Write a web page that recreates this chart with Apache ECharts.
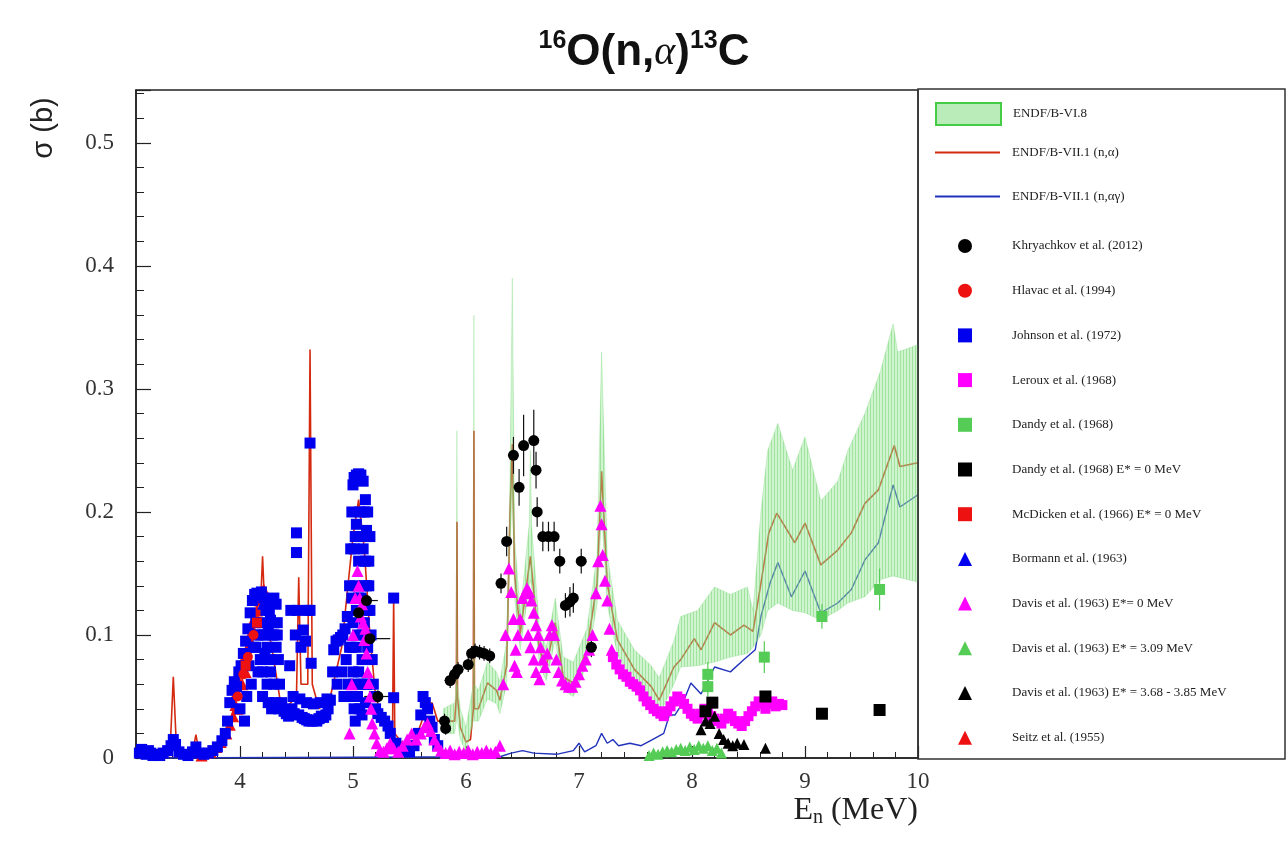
<!DOCTYPE html>
<html>
<head>
<meta charset="utf-8">
<script src="https://cdn.jsdelivr.net/npm/echarts@6/dist/echarts.min.js"></script>
<style>html,body{margin:0;padding:0;background:#fff}#c{width:1288px;height:845px}</style>
</head>
<body>
<div id="c"></div>
<script>
// ---------------- DATA ----------------
const xTicks = [4, 5, 6, 7, 8, 9, 10];
const yTicks = [0, 0.1, 0.2, 0.3, 0.4, 0.5];

// ENDF/B-VII.1 (n,alpha)  [E, sigma]
const endf71Alpha = [
 [3.10,0.0],[3.38,0.002],[3.41,0.066],[3.44,0.004],[3.58,0.004],[3.61,0.019],[3.64,0.004],[3.70,0.004],
 [3.80,0.01],[3.90,0.025],[4.00,0.06],[4.10,0.10],[4.18,0.12],[4.20,0.164],[4.22,0.12],[4.26,0.10],
 [4.30,0.08],[4.35,0.05],[4.40,0.04],[4.50,0.05],[4.52,0.147],[4.54,0.06],[4.60,0.06],[4.62,0.332],
 [4.64,0.06],[4.70,0.04],[4.80,0.05],[4.90,0.09],[5.00,0.18],[5.05,0.21],[5.10,0.17],[5.15,0.10],
 [5.20,0.05],[5.30,0.02],[5.35,0.02],[5.36,0.13],[5.37,0.02],[5.45,0.01],[5.55,0.015],[5.65,0.04],
 [5.70,0.045],[5.75,0.03],[5.85,0.03],[5.90,0.03],[5.915,0.05],[5.92,0.192],[5.925,0.05],[5.95,0.025],
 [6.00,0.013],[6.04,0.015],[6.065,0.04],[6.07,0.266],[6.075,0.04],[6.11,0.04],[6.19,0.061],[6.27,0.055],
 [6.30,0.047],[6.36,0.075],[6.39,0.20],[6.41,0.255],[6.43,0.15],[6.48,0.101],[6.57,0.164],[6.65,0.088],
 [6.71,0.074],[6.79,0.11],[6.86,0.066],[6.95,0.061],[7.07,0.088],[7.16,0.142],[7.20,0.233],[7.25,0.142],
 [7.34,0.096],[7.49,0.072],[7.64,0.058],[7.71,0.047],[7.84,0.074],[7.90,0.08],[8.02,0.097],[8.08,0.088],
 [8.20,0.11],[8.34,0.10],[8.46,0.108],[8.54,0.103],[8.61,0.142],[8.68,0.183],[8.75,0.199],[8.91,0.175],
 [9.00,0.191],[9.14,0.157],[9.29,0.169],[9.41,0.183],[9.53,0.207],[9.65,0.218],[9.79,0.254],[9.84,0.237],
 [10.0,0.24]
];

// ENDF/B-VII.1 (n,alpha gamma)
const endf71AlphaGamma = [
 [3.10,0.0],[6.30,0.001],[6.40,0.004],[6.50,0.006],[6.60,0.004],[6.80,0.003],[6.95,0.006],[7.00,0.012],
 [7.05,0.005],[7.15,0.01],[7.20,0.02],[7.25,0.012],[7.30,0.015],[7.35,0.01],[7.45,0.012],[7.55,0.01],
 [7.65,0.015],[7.75,0.02],[7.80,0.035],[7.85,0.035],[7.92,0.045],[7.99,0.061],[8.08,0.052],[8.20,0.074],
 [8.34,0.07],[8.46,0.08],[8.56,0.088],[8.61,0.115],[8.69,0.142],[8.76,0.159],[8.88,0.131],[9.00,0.152],
 [9.14,0.118],[9.29,0.126],[9.41,0.137],[9.53,0.161],[9.65,0.175],[9.78,0.222],[9.84,0.204],[10.0,0.214]
];

// ENDF/B-VI.8 uncertainty band
const bandE  = [5.80,5.90,5.915,5.92,5.925,5.95,6.00,6.065,6.07,6.075,6.11,6.19,6.27,6.30,6.36,6.39,6.41,6.43,6.48,6.56,6.57,6.58,6.65,6.71,6.79,6.86,6.95,7.07,7.16,7.20,7.25,7.34,7.49,7.64,7.71,7.84,7.90,8.05,8.20,8.34,8.49,8.54,8.61,8.67,8.76,8.89,9.00,9.14,9.29,9.38,9.53,9.67,9.78,9.82,10.0];
const bandLo = [0.020,0.020,0.030,0.060,0.030,0.015,0.005,0.030,0.080,0.030,0.030,0.048,0.044,0.036,0.060,0.170,0.220,0.130,0.088,0.140,0.145,0.140,0.076,0.063,0.096,0.055,0.050,0.076,0.125,0.200,0.125,0.084,0.060,0.046,0.035,0.060,0.074,0.075,0.078,0.082,0.085,0.090,0.100,0.120,0.126,0.120,0.118,0.112,0.120,0.126,0.131,0.145,0.148,0.147,0.143];
const bandHi = [0.040,0.045,0.060,0.266,0.060,0.040,0.025,0.060,0.360,0.060,0.055,0.078,0.070,0.062,0.095,0.230,0.390,0.180,0.118,0.190,0.250,0.190,0.105,0.090,0.130,0.082,0.078,0.105,0.165,0.330,0.165,0.112,0.088,0.075,0.065,0.095,0.115,0.120,0.139,0.133,0.139,0.120,0.200,0.250,0.272,0.234,0.261,0.209,0.225,0.250,0.280,0.315,0.353,0.330,0.336];

// Khryachkov et al. (2012): [E, sigma, dE, dSigma]
const khryachkov = [
 [5.05,0.118,0.12,0.005],[5.12,0.128,0.10,0.005],[5.15,0.097,0.18,0.005],[5.22,0.050,0.12,0.005],
 [5.81,0.030,0.04,0.006],[5.82,0.024,0.03,0.005],[5.86,0.063,0.05,0.006],[5.90,0.068,0.05,0.006],
 [5.93,0.072,0.05,0.006],[6.02,0.076,0.04,0.006],[6.05,0.085,0.04,0.006],[6.08,0.087,0.04,0.006],
 [6.12,0.086,0.04,0.006],[6.16,0.085,0.04,0.006],[6.21,0.083,0.04,0.006],[6.31,0.142,0.04,0.008],
 [6.36,0.176,0.04,0.012],[6.42,0.246,0.04,0.015],[6.47,0.220,0.04,0.015],[6.51,0.254,0.04,0.025],
 [6.60,0.258,0.04,0.025],[6.62,0.234,0.04,0.015],[6.63,0.200,0.03,0.012],[6.68,0.180,0.04,0.012],
 [6.73,0.180,0.04,0.012],[6.78,0.180,0.04,0.012],[6.83,0.160,0.04,0.010],[7.02,0.160,0.04,0.010],
 [6.88,0.124,0.04,0.010],[6.92,0.127,0.04,0.012],[6.95,0.130,0.04,0.012],[7.11,0.090,0.02,0.008]
];
const hlavac = [[3.98,0.050],[4.03,0.068],[4.07,0.082],[4.12,0.100]];
const johnson = [
 [3.11,0.004],[3.13,0.007],[3.15,0.005],[3.17,0.003],[3.19,0.006],[3.21,0.004],[3.23,0.002],[3.26,0.003],
 [3.29,0.002],[3.32,0.004],[3.36,0.006],[3.39,0.010],[3.41,0.015],[3.43,0.011],[3.46,0.005],[3.50,0.003],
 [3.54,0.002],[3.58,0.005],[3.61,0.009],[3.64,0.004],[3.68,0.003],[3.72,0.004],[3.76,0.006],[3.80,0.009],
 [3.84,0.014],[3.87,0.020],[3.89,0.030],[3.91,0.045],[3.93,0.055],[3.95,0.062],[3.97,0.058],[3.99,0.070],
 [4.01,0.075],[4.03,0.085],[4.05,0.095],[4.07,0.105],[4.09,0.118],[4.11,0.128],[4.13,0.133],[4.15,0.134],
 [4.17,0.132],[4.19,0.135],[4.21,0.130],[4.23,0.120],[4.25,0.105],[4.27,0.112],[4.28,0.127],[4.30,0.130],
 [4.32,0.125],[4.33,0.100],[4.34,0.080],[4.35,0.060],[4.37,0.045],[4.39,0.038],[4.41,0.036],[4.43,0.034],
 [4.10,0.060],[4.12,0.090],[4.14,0.110],[4.16,0.070],[4.18,0.100],[4.20,0.050],[4.22,0.085],[4.24,0.060],
 [4.26,0.080],[4.28,0.100],[4.30,0.060],[4.32,0.090],[4.06,0.050],[4.08,0.075],[4.00,0.040],[4.04,0.030],
 [4.14,0.090],[4.16,0.100],[4.18,0.080],[4.20,0.110],[4.22,0.100],[4.24,0.090],[4.26,0.120],[4.30,0.100],
 [4.33,0.110],[4.24,0.125],[4.20,0.070],[4.27,0.070],[4.34,0.040],[4.31,0.045],[4.28,0.040],[4.25,0.045],
 [4.44,0.075],[4.45,0.120],[4.46,0.040],[4.48,0.036],[4.49,0.100],[4.50,0.183],[4.50,0.167],[4.51,0.120],
 [4.52,0.035],[4.54,0.090],[4.55,0.033],[4.56,0.104],[4.57,0.032],[4.58,0.095],[4.59,0.031],[4.60,0.120],
 [4.61,0.030],[4.62,0.256],[4.62,0.120],[4.63,0.077],[4.64,0.030],[4.66,0.031],[4.68,0.030],[4.70,0.032],
 [4.72,0.034],[4.74,0.033],[4.76,0.035],[4.78,0.040],[4.47,0.050],[4.53,0.048],[4.59,0.045],[4.65,0.044],
 [4.71,0.045],[4.77,0.048],[4.80,0.047],[4.82,0.070],[4.83,0.088],[4.85,0.095],[4.87,0.096],[4.89,0.098],
 [4.91,0.100],[4.93,0.105],[4.95,0.115],[4.97,0.140],[4.98,0.170],[4.99,0.200],[5.00,0.222],[5.01,0.228],
 [5.03,0.230],[5.05,0.231],[5.07,0.230],[5.09,0.225],[5.10,0.200],[5.11,0.210],[5.12,0.185],[5.13,0.200],
 [5.14,0.160],[5.14,0.140],[5.15,0.180],[5.15,0.120],[5.16,0.100],[5.17,0.080],[5.18,0.060],[5.19,0.050],
 [4.86,0.060],[4.90,0.070],[4.94,0.080],[4.97,0.090],[5.00,0.070],[5.00,0.110],[5.02,0.140],[5.02,0.180],
 [5.04,0.050],[5.04,0.100],[5.05,0.160],[5.06,0.200],[5.07,0.130],[5.08,0.080],[5.09,0.170],[5.10,0.110],
 [5.12,0.140],[5.12,0.060],[5.01,0.040],[5.06,0.040],[4.92,0.050],
 [4.99,0.090],[4.99,0.130],[5.01,0.060],[5.01,0.170],[5.03,0.090],[5.03,0.120],[5.03,0.190],[5.05,0.070],
 [5.05,0.130],[5.07,0.060],[5.07,0.180],[5.08,0.100],[5.09,0.140],[5.10,0.060],[5.11,0.160],[5.13,0.090],
 [5.13,0.120],[4.96,0.060],[4.98,0.050],[5.02,0.030],[5.08,0.035],[5.11,0.045],
 [5.20,0.040],[5.22,0.036],[5.25,0.033],[5.28,0.030],[5.31,0.026],[5.33,0.020],[5.36,0.130],[5.36,0.049],
 [5.38,0.012],[5.42,0.008],[5.46,0.006],[5.50,0.005],[5.54,0.010],[5.58,0.020],[5.60,0.035],[5.62,0.050],
 [5.64,0.045],[5.66,0.040],[5.68,0.030],[5.70,0.025],[5.72,0.015],[5.75,0.010]
];
const leroux = [
 [7.30,0.082],[7.33,0.076],[7.36,0.072],[7.39,0.068],[7.42,0.066],[7.45,0.062],[7.48,0.060],[7.51,0.058],
 [7.54,0.055],[7.57,0.050],[7.60,0.046],[7.63,0.043],[7.66,0.040],[7.69,0.038],[7.72,0.036],[7.75,0.034],
 [7.78,0.038],[7.81,0.042],[7.84,0.046],[7.87,0.050],[7.90,0.048],[7.93,0.044],[7.96,0.040],[7.99,0.036],
 [8.02,0.034],[8.05,0.032],[8.08,0.036],[8.11,0.040],[8.14,0.038],[8.17,0.034],[8.20,0.032],[8.23,0.030],
 [8.26,0.028],[8.29,0.032],[8.32,0.036],[8.35,0.034],[8.38,0.030],[8.41,0.028],[8.44,0.026],[8.47,0.030],
 [8.50,0.034],[8.53,0.038],[8.56,0.042],[8.59,0.046],[8.62,0.044],[8.65,0.040],[8.68,0.044],[8.71,0.046],
 [8.74,0.042],[8.77,0.044],[8.80,0.043]
];
// Dandy et al. (1968): [E, sigma, dE, dSigma]
const dandy = [[8.14,0.068,0,0.010],[8.14,0.058,0,0.008],[8.64,0.082,0,0.013],[9.15,0.115,0,0.010],[9.66,0.137,0,0.017]];
const dandyGS = [[8.12,0.038],[8.18,0.045],[8.65,0.050],[9.15,0.036],[9.66,0.039]];
const mcdicken = [[4.05,0.075],[4.15,0.110]];
const bormann = [[4.20,0.125],[4.30,0.110]];
const davisGS = [
 [4.97,0.020],[4.99,0.060],[5.00,0.100],[5.02,0.130],[5.04,0.152],[5.05,0.140],[5.06,0.130],[5.07,0.115],
 [5.08,0.125],[5.09,0.110],[5.10,0.096],[5.11,0.105],[5.12,0.085],[5.13,0.070],[5.14,0.061],[5.15,0.050],
 [5.16,0.040],[5.17,0.028],[5.19,0.020],[5.21,0.012],[5.24,0.006],[5.27,0.005],[5.30,0.008],[5.33,0.012],
 [5.36,0.008],[5.40,0.005],[5.44,0.010],[5.48,0.015],[5.52,0.020],[5.56,0.015],[5.60,0.020],[5.63,0.025],
 [5.66,0.028],[5.69,0.022],[5.72,0.015],[5.75,0.010],[5.78,0.006],
 [5.82,0.004],[5.86,0.006],[5.90,0.003],[5.94,0.005],[5.98,0.004],[6.02,0.006],[6.06,0.003],[6.10,0.005],
 [6.14,0.004],[6.18,0.006],[6.22,0.004],[6.26,0.005],[6.30,0.010],
 [6.33,0.060],[6.35,0.100],[6.38,0.154],[6.40,0.135],[6.42,0.113],[6.44,0.088],[6.46,0.100],[6.48,0.113],
 [6.50,0.130],[6.52,0.134],[6.54,0.138],[6.56,0.135],[6.58,0.128],[6.60,0.118],[6.62,0.108],[6.64,0.100],
 [6.66,0.090],[6.68,0.080],[6.70,0.074],[6.72,0.085],[6.74,0.100],[6.76,0.108],[6.78,0.100],[6.80,0.080],
 [6.82,0.070],[6.85,0.063],[6.88,0.060],[6.91,0.058],[6.94,0.058],[6.97,0.062],[7.00,0.068],[7.03,0.075],
 [7.06,0.080],[7.09,0.088],[7.12,0.100],[7.15,0.134],[7.17,0.160],[7.19,0.205],[7.20,0.190],[7.21,0.165],
 [7.23,0.144],[7.25,0.128],[7.27,0.105],[7.29,0.088],
 [6.43,0.075],[6.45,0.070],[6.55,0.100],[6.57,0.090],[6.60,0.080],[6.62,0.070],[6.65,0.064]
];
const davis309 = [
 [7.62,0.002],[7.66,0.004],[7.70,0.003],[7.74,0.005],[7.78,0.006],[7.82,0.005],[7.86,0.007],[7.90,0.008],
 [7.94,0.006],[7.98,0.009],[8.02,0.007],[8.06,0.010],[8.10,0.008],[8.14,0.010],[8.18,0.006],[8.22,0.008],[8.26,0.004]
];
const davis368 = [
 [8.08,0.023],[8.12,0.030],[8.16,0.028],[8.20,0.034],[8.24,0.020],[8.28,0.015],[8.32,0.012],[8.36,0.010],
 [8.40,0.012],[8.46,0.011],[8.65,0.008]
];
const seitz = [
 [3.66,0.002],[3.70,0.004],[3.74,0.005],[3.79,0.009],[3.83,0.013],[3.88,0.020],[3.91,0.027],[3.94,0.034],
 [3.96,0.043],[3.97,0.053],[3.99,0.062],[4.01,0.072],[4.03,0.080],[4.06,0.088],[4.08,0.098],[4.10,0.107],
 [4.13,0.114],[4.15,0.120],[4.18,0.128],[4.21,0.137],[4.05,0.070],[4.02,0.060],[3.98,0.040]
];

// ---------------- CHART ----------------
const chart = echarts.init(document.getElementById('c'), null, {renderer: 'canvas'});
const serif = '"Liberation Serif", "DejaVu Serif", serif';
const sans = '"Liberation Sans", Arial, sans-serif';

// hatch texture for the ENDF/B-VI.8 band
const hatch = document.createElement('canvas');
hatch.width = 3; hatch.height = 6;
(function () {
  const c = hatch.getContext('2d');
  c.fillStyle = 'rgba(150,228,150,0.45)'; c.fillRect(0, 0, 3, 6);
  c.fillStyle = 'rgba(110,212,110,0.5)'; c.fillRect(0, 0, 1, 6);
})();

function errRender(color) {
  return function (params, api) {
    const x = api.value(0), y = api.value(1), dx = api.value(2), dy = api.value(3);
    const ch = [];
    const st = {stroke: color, lineWidth: 1.2};
    if (dy > 0) {
      const a = api.coord([x, y - dy]), b = api.coord([x, y + dy]);
      ch.push({type: 'line', shape: {x1: a[0], y1: a[1], x2: b[0], y2: b[1]}, style: st});
    }
    if (dx > 0) {
      const a = api.coord([x - dx, y]), b = api.coord([x + dx, y]);
      ch.push({type: 'line', shape: {x1: a[0], y1: a[1], x2: b[0], y2: b[1]}, style: st});
    }
    return {type: 'group', children: ch};
  };
}

const names = {
  band: 'ENDF/B-VI.8', a: 'ENDF/B-VII.1 (n,α)', ag: 'ENDF/B-VII.1 (n,αγ)',
  khr: 'Khryachkov et al. (2012)', hla: 'Hlavac et al. (1994)', joh: 'Johnson et al. (1972)',
  ler: 'Leroux et al. (1968)', dan: 'Dandy et al. (1968)', dan0: 'Dandy et al. (1968) E* = 0 MeV',
  mcd: 'McDicken et al. (1966) E* = 0 MeV', bor: 'Bormann et al. (1963)', dav0: 'Davis et al. (1963) E*= 0 MeV',
  dav3: 'Davis et al. (1963) E* = 3.09 MeV', dav36: 'Davis et al. (1963) E* = 3.68 - 3.85 MeV', sei: 'Seitz et al. (1955)'
};

function sc(name, data, symbol, color, size) {
  return {type: 'scatter', name, data, symbol, symbolSize: size, itemStyle: {color, opacity: 1}, z: 5};
}

const legendText = {fontFamily: serif, fontSize: 13, color: '#222', padding: [0, 0, 0, 7]};
const lineIcon = 'path://M0,0 L65,0 L65,2 L0,2 Z';
function topLegend(item, top) {
  return {data: [item], orient: 'vertical', left: 935, top, padding: 0, itemWidth: 65, itemHeight: 22, textStyle: legendText};
}

const option = {
  backgroundColor: '#fff',
  animation: false,
  title: {
    text: '{s|16}{m|O(n,}{g|α}{m|)}{s|13}{m|C}',
    left: 'center', top: 24,
    textStyle: {
      rich: {
        s: {fontFamily: sans, fontWeight: 'bold', fontSize: 25, verticalAlign: 'top', lineHeight: 48, padding: [0, 0, 20, 0], color: '#111'},
        m: {fontFamily: sans, fontWeight: 'bold', fontSize: 44, lineHeight: 48, color: '#111'},
        g: {fontFamily: serif, fontStyle: 'italic', fontWeight: 'normal', fontSize: 40, lineHeight: 48, color: '#111'}
      }
    }
  },
  grid: {left: 136, right: 370, top: 90, bottom: 87, show: true, borderColor: '#222', borderWidth: 1.5, backgroundColor: 'transparent'},
  xAxis: {
    type: 'value', min: 3.08, max: 10, minInterval: 1, maxInterval: 1,
    name: '{e|E}{n|n}{e| (MeV)}', nameLocation: 'end', nameGap: 0,
    nameTextStyle: {align: 'right', verticalAlign: 'top', padding: [36, 0, 0, 0],
      rich: {e: {fontFamily: serif, fontSize: 32, color: '#222'}, n: {fontFamily: serif, fontSize: 20, color: '#222', verticalAlign: 'bottom', padding: [14, 0, 0, 0]}}},
    axisLine: {show: true, lineStyle: {color: '#222', width: 1.5}},
    axisTick: {show: true, inside: true, length: 12, lineStyle: {color: '#222', width: 1.2}},
    minorTick: {show: true, splitNumber: 5, length: 6, lineStyle: {color: '#222', width: 1}},
    axisLabel: {fontFamily: serif, fontSize: 23, color: '#333', margin: 12, showMinLabel: false},
    splitLine: {show: false}
  },
  yAxis: {
    type: 'value', min: 0, max: 0.543, minInterval: 0.1, maxInterval: 0.1,
    axisLine: {show: true, lineStyle: {color: '#222', width: 1.5}},
    axisTick: {show: true, inside: true, length: 15, lineStyle: {color: '#222', width: 1.2}},
    minorTick: {show: true, splitNumber: 5, length: 8, lineStyle: {color: '#222', width: 1}},
    axisLabel: {fontFamily: serif, fontSize: 23, color: '#333', margin: 22, showMaxLabel: false,
      formatter: v => (v === 0 ? '0' : v.toFixed(1))},
    splitLine: {show: false}
  },
  legend: [
    topLegend({name: names.band, icon: 'rect', itemStyle: {color: '#b9ecb9', borderColor: '#44cc44', borderWidth: 2}}, 102),
    topLegend({name: names.a, icon: lineIcon, itemStyle: {color: '#d42a10'}}, 146),
    topLegend({name: names.ag, icon: lineIcon, itemStyle: {color: '#2233bb'}}, 190),
    {
      data: [names.khr, names.hla, names.joh, names.ler, names.dan, names.dan0, names.mcd, names.bor, names.dav0, names.dav3, names.dav36, names.sei],
      orient: 'vertical', left: 958, top: 239, padding: 0, itemWidth: 14, itemHeight: 14, itemGap: 30.7,
      textStyle: {fontFamily: serif, fontSize: 13, color: '#222', padding: [0, 0, 0, 35], lineHeight: 14}
    }
  ],
  graphic: [
    {type: 'rect', shape: {x: 918, y: 89, width: 367, height: 670}, style: {fill: 'none', stroke: '#333', lineWidth: 1.5}, z: 10},
    {type: 'text', x: 44, y: 128, rotation: Math.PI / 2,
      style: {text: 'σ (b)', font: 'normal 29px "Liberation Sans", Arial, sans-serif', fill: '#222', textAlign: 'center', textVerticalAlign: 'middle'}}
  ],
  series: [
    {type: 'line', name: names.a, data: endf71Alpha, symbol: 'none', lineStyle: {color: '#d42a10', width: 1.6}, itemStyle: {color: '#d42a10'}, z: 2},
    {type: 'line', name: names.ag, data: endf71AlphaGamma, symbol: 'none', lineStyle: {color: '#2233bb', width: 1.4}, itemStyle: {color: '#2233bb'}, z: 2},
    {
      type: 'custom', name: names.band, z: 3,
      data: bandE.map((e, i) => [e, bandLo[i], bandHi[i]]),
      encode: {x: 0, y: [1, 2]},
      itemStyle: {color: '#b9ecb9'},
      renderItem: function (params, api) {
        if (params.dataIndex !== 0) return null;
        const pts = [];
        for (let i = 0; i < bandE.length; i++) pts.push(api.coord([bandE[i], bandHi[i]]));
        for (let i = bandE.length - 1; i >= 0; i--) pts.push(api.coord([bandE[i], bandLo[i]]));
        return {type: 'polygon', shape: {points: pts}, style: {fill: {image: hatch, repeat: 'repeat'}, stroke: 'rgba(120,215,120,0.3)', lineWidth: 1}};
      }
    },
    {type: 'custom', name: 'khrErr', data: khryachkov, renderItem: errRender('#111'), encode: {x: 0, y: 1}, z: 4, silent: true},
    {type: 'custom', name: 'danErr', data: dandy, renderItem: errRender('#55cc55'), encode: {x: 0, y: 1}, z: 4, silent: true},
    sc(names.sei, seitz, 'triangle', '#ee1111', 12),
    sc(names.joh, johnson, 'rect', '#0000ee', 11),
    sc(names.hla, hlavac, 'circle', '#ee1111', 10),
    sc(names.mcd, mcdicken, 'rect', '#ee1111', 10),
    sc(names.bor, bormann, 'triangle', '#0000ee', 11),
    sc(names.dav0, davisGS, 'triangle', '#ff00ff', 12),
    sc(names.ler, leroux, 'rect', '#ff00ff', 10),
    sc(names.dav3, davis309, 'triangle', '#55cc55', 11),
    sc(names.dan, dandy.map(d => [d[0], d[1]]), 'rect', '#55cc55', 11),
    sc(names.dan0, dandyGS, 'rect', '#000000', 12),
    sc(names.dav36, davis368, 'triangle', '#000000', 11),
    sc(names.khr, khryachkov.map(d => [d[0], d[1]]), 'circle', '#000000', 11)
  ]
};
chart.setOption(option);
</script>
</body>
</html>
